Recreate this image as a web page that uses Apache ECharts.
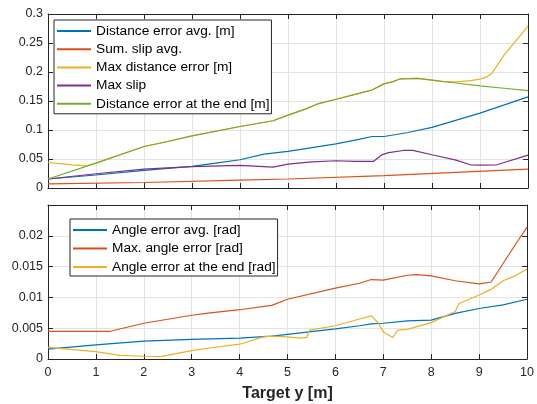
<!DOCTYPE html>
<html>
<head>
<meta charset="utf-8">
<script src="https://cdn.jsdelivr.net/npm/echarts@6/dist/echarts.min.js"></script>
<style>
html,body{margin:0;padding:0;background:#fff;}
#chart{width:537px;height:404px;}
</style>
</head>
<body>
<div id="chart"></div>
<script>
// ---------- Top panel data ----------
const xTicks = [0,1,2,3,4,5,6,7,8,9,10];
const topYTicks = [0,0.05,0.1,0.15,0.2,0.25,0.3];
const botYTicks = [0,0.005,0.01,0.015,0.02];

const distAvgX = [0,1,2,3,3.5,4,4.5,5,6,6.5,6.75,7,7.5,8,9,10];
const distAvgY = [0.0155,0.0224,0.0305,0.0372,0.043,0.0487,0.0585,0.063,0.0762,0.0843,0.0888,0.0888,0.0957,0.1046,0.129,0.157];

const slipAvgX = [0,2,4,5,7,8.5,10];
const slipAvgY = [0.007,0.0095,0.0135,0.0155,0.0215,0.027,0.0325];

const maxDistX = [0,0.25,0.5,0.8,1,2,2.4,3,4,4.69,5,5.375,5.6,6,6.5,6.75,7,7.19,7.33,7.7,8,8.2,8.5,8.8,9,9.15,9.25,9.5,10];
const maxDistY = [0.044,0.042,0.040,0.038,0.043,0.0716,0.0785,0.090,0.106,0.116,0.1256,0.1365,0.1445,0.153,0.1635,0.169,0.1795,0.1835,0.188,0.189,0.186,0.184,0.1830,0.1850,0.1876,0.192,0.198,0.229,0.279];

const maxSlipX = [0,1,2,3,4,4.69,5,5.5,6,6.4,6.78,6.95,7.1,7.4,7.6,8,8.5,8.8,9,9.35,10];
const maxSlipY = [0.0155,0.0246,0.0327,0.0367,0.039,0.036,0.0413,0.045,0.047,0.046,0.0458,0.057,0.061,0.0647,0.065,0.0573,0.048,0.040,0.0396,0.040,0.0568];

const distEndX = [0,1,2,2.4,3,4,4.69,5,5.375,5.6,6,6.5,6.75,7,7.19,7.33,7.7,8,8.2,8.5,9,9.5,10];
const distEndY = [0.0155,0.043,0.0716,0.0785,0.090,0.106,0.116,0.1256,0.1365,0.1445,0.153,0.1635,0.169,0.1795,0.1835,0.188,0.189,0.186,0.184,0.181,0.176,0.172,0.168];

// ---------- Bottom panel data ----------
const angAvgX = [0,1,2,3,4,4.67,5,6,6.5,6.75,7,7.5,8,8.5,9,9.5,10];
const angAvgY = [0.0016,0.0023,0.0029,0.0032,0.0034,0.0037,0.0040,0.0049,0.0054,0.0057,0.0058,0.0062,0.0063,0.0074,0.0082,0.0088,0.0097];

const angMaxX = [0,1.3,2,3,3.3,4,4.67,5,6,6.5,6.75,7,7.5,7.7,8,8.5,9,9.25,9.5,9.75,10];
const angMaxY = [0.0045,0.0045,0.0058,0.0071,0.0074,0.0080,0.0087,0.0097,0.0115,0.0123,0.0129,0.0128,0.0136,0.0137,0.0135,0.0127,0.0122,0.0125,0.0155,0.0185,0.0214];

const angEndX = [0,1,1.5,2,2.35,3,3.3,4,4.5,4.67,5,5.25,5.4,5.46,6,6.5,6.75,6.9,7,7.2,7.3,7.5,8,8.5,8.58,9,9.25,9.5,9.75,10];
const angEndY = [0.0019,0.0012,0.0006,0.00045,0.0004,0.00135,0.0017,0.0024,0.0036,0.0037,0.0036,0.0034,0.0035,0.0047,0.0054,0.0065,0.0070,0.0058,0.0044,0.0035,0.0047,0.0048,0.0059,0.0077,0.0090,0.0104,0.0113,0.0127,0.0135,0.0146];

const topNames = ['Distance error avg. [m]','Sum. slip avg.','Max distance error [m]','Max slip','Distance error at the end [m]'];
const botNames = ['Angle error avg. [rad]','Max. angle error [rad]','Angle error at the end [rad]'];
const xLabel = 'Target y [m]';

const C = ['#0072BD','#D95319','#EDB120','#7E2F8E','#77AC30'];
const FONT = 'Liberation Sans, Arial, Helvetica, sans-serif';
const AX = '#262626';

function zip(xs, ys){ return xs.map((x,i)=>[x, ys[i]]); }

function xAx(grid, pos, labels){
  return {
    type:'value', gridIndex:grid, position:pos, min:0, max:10, interval:1,
    axisLine:{show:true, onZero:false, lineStyle:{color:AX, width:1}},
    axisTick:{show:true, inside:true, length:5, lineStyle:{color:AX}},
    axisLabel:{show:labels, color:AX, fontSize:12.5, fontFamily:FONT, margin:7},
    splitLine:{show: pos==='bottom', lineStyle:{color:'#e3e3e3', width:1}}
  };
}
function yAx(grid, pos, max, interval, labels){
  return {
    type:'value', gridIndex:grid, position:pos, min:0, max:max, interval:interval,
    axisLine:{show:true, onZero:false, lineStyle:{color:AX, width:1}},
    axisTick:{show:true, inside:true, length:5, lineStyle:{color:AX}},
    axisLabel:{show:labels, color:AX, fontSize:12.5, fontFamily:FONT, margin:5, showMaxLabel: grid===0},
    splitLine:{show: pos==='left', lineStyle:{color:'#e3e3e3', width:1}}
  };
}

const xAxes = [xAx(0,'bottom',false), xAx(0,'top',false), xAx(1,'bottom',true), xAx(1,'top',false)];
xAxes[2].name = xLabel;
xAxes[2].nameLocation = 'middle';
xAxes[2].nameGap = 27;
xAxes[2].nameTextStyle = {color:AX, fontSize:16, fontWeight:'bold', fontFamily:FONT};

const yAxes = [yAx(0,'left',topYTicks[topYTicks.length-1],0.05,true), yAx(0,'right',0.3,0.05,false),
               yAx(1,'left',0.025,0.005,true), yAx(1,'right',0.025,0.005,false)];

const topData = [[distAvgX,distAvgY],[slipAvgX,slipAvgY],[maxDistX,maxDistY],[maxSlipX,maxSlipY],[distEndX,distEndY]];
const botData = [[angAvgX,angAvgY],[angMaxX,angMaxY],[angEndX,angEndY]];

const series = [];
topData.forEach((d,i)=>series.push({
  name: topNames[i], type:'line', xAxisIndex:0, yAxisIndex:0, data: zip(d[0],d[1]),
  showSymbol:false, symbol:'none', lineStyle:{color:C[i], width:1.2}, itemStyle:{color:C[i]}, z: 2+i
}));
botData.forEach((d,i)=>series.push({
  name: botNames[i], type:'line', xAxisIndex:2, yAxisIndex:2, data: zip(d[0],d[1]),
  showSymbol:false, symbol:'none', lineStyle:{color:C[i], width:1.2}, itemStyle:{color:C[i]}, z: 2+i
}));
series[2].z = 2; series[4].z = 6;

function legend(names, left, top, gap, pad){
  return {
    data: names, orient:'vertical', left:left, top:top,
    backgroundColor:'#fff', borderColor:AX, borderWidth:1,
    padding:pad, itemGap:gap, itemWidth:34, itemHeight:2, icon:'rect',
    textStyle:{color:'#000', fontSize:13.7, fontFamily:FONT, lineHeight:16},
    selectedMode:false
  };
}

const option = {
  animation:false,
  backgroundColor:'#fff',
  grid:[
    {left:48, top:14, width:480, height:174, containLabel:false},
    {left:48, top:205, width:480, height:154, containLabel:false}
  ],
  xAxis:xAxes,
  yAxis:yAxes,
  legend:[legend(topNames,54,20,2.2,[3,2,2,3]), legend(botNames,70,219,2.5,[3,2,1,3])],
  series:series
};

const chart = echarts.init(document.getElementById('chart'), null, {renderer:'canvas'});
chart.setOption(option);
</script>
</body>
</html>
